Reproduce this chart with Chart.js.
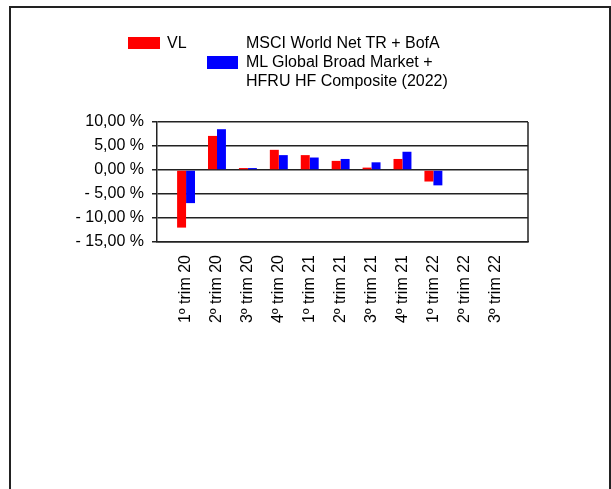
<!DOCTYPE html>
<html>
<head>
<meta charset="utf-8">
<script src="https://cdn.jsdelivr.net/npm/chart.js@4.4.0/dist/chart.umd.min.js"></script>
<style>
    html, body { margin: 0; padding: 0; background: #fff; }
    #wrap { position: relative; width: 611px; height: 489px; overflow: hidden; }
    #frame {
        position: absolute; left: 9px; top: 6px; width: 598px; height: 500px;
        border-left: 2px solid #222; border-top: 2px solid #222; border-right: 2px solid #222;
    }
    #chart { position: absolute; left: 0; top: 0; }
    .leg { position: absolute; font: 16px "Liberation Sans", Arial, sans-serif; color: #000; line-height: 19px; white-space: nowrap; }
    .box { position: absolute; }
</style>
</head>
<body>
<div id="wrap">
    <div id="frame"></div>
    <canvas id="chart" width="611" height="489"></canvas>
    <div id="legend"></div>
</div>
<script>
// ===== Quarterly returns: fund vs. benchmark =====

const categories = ['1º trim 20', '2º trim 20', '3º trim 20', '4º trim 20', '1º trim 21', '2º trim 21',
    '3º trim 21', '4º trim 21', '1º trim 22', '2º trim 22', '3º trim 22'];

const seriesNames = ['VL', 'MSCI World Net TR + BofA\nML Global Broad Market +\nHFRU HF Composite (2022)'];
const seriesColors = ['#ff0000', '#0000ff'];

// values in % (last two quarters have no data)
const vlValues = [-12.0, 7.1, 0.4, 4.2, 3.1, 1.9, 0.5, 2.3, -2.4, null, null];
const benchValues = [-6.9, 8.5, 0.4, 3.1, 2.6, 2.3, 1.6, 3.8, -3.2, null, null];

const yTicks = [10, 5, 0, -5, -10, -15];

function fmtPct(v) {
    const s = Math.abs(v).toFixed(2).replace('.', ',') + ' %';
    return v < 0 ? '- ' + s : s;
}

function toPoints(values) {
    return values.map((v, i) => ({ x: i, y: v }));
}

// right edge of the plot frame
const frameRight = {
    id: 'frameRight',
    afterDraw(chart) {
        const { ctx, chartArea } = chart;
        ctx.save();
        ctx.strokeStyle = '#222';
        ctx.lineWidth = 1.5;
        ctx.beginPath();
        ctx.moveTo(chartArea.right, chartArea.top);
        ctx.lineTo(chartArea.right, chartArea.bottom);
        ctx.stroke();
        ctx.restore();
    }
};

const font = { family: '"Liberation Sans", Arial, sans-serif', size: 16 };

new Chart(document.getElementById('chart'), {
    type: 'bar',
    data: {
        datasets: [
            { label: seriesNames[0], data: toPoints(vlValues), backgroundColor: seriesColors[0] },
            { label: seriesNames[1], data: toPoints(benchValues), backgroundColor: seriesColors[1] }
        ]
    },
    options: {
        responsive: false,
        animation: false,
        layout: { padding: { left: 0, top: 122, right: 83, bottom: 147 } },
        plugins: { legend: { display: false }, tooltip: { enabled: false } },
        datasets: { bar: { categoryPercentage: 0.58, barPercentage: 1.0 } },
        scales: {
            x: {
                type: 'linear',
                offset: false,
                min: -0.94,
                max: 11.06,
                afterBuildTicks(scale) {
                    scale.ticks = categories.map((_, i) => ({ value: i }));
                },
                afterFit(scale) {
                    scale.height = 100;
                    scale.paddingLeft = 0;
                    scale.paddingRight = 0;
                },
                grid: { display: false, drawTicks: false },
                border: { display: true, color: '#222', width: 1.5 },
                ticks: {
                    minRotation: 90,
                    maxRotation: 90,
                    autoSkip: false,
                    padding: 13,
                    color: '#000',
                    font: font,
                    callback: (v) => categories[v] ?? ''
                }
            },
            y: {
                min: -15,
                max: 10,
                afterBuildTicks(scale) {
                    scale.ticks = yTicks.map(v => ({ value: v }));
                },
                afterFit(scale) { scale.width = 157; },
                grid: { color: '#222', lineWidth: 1.5, tickLength: 5 },
                border: { display: true, color: '#222', width: 1.5 },
                ticks: {
                    padding: 8,
                    color: '#000',
                    font: font,
                    callback: (v) => fmtPct(v)
                }
            }
        }
    },
    plugins: [frameRight]
});

// legend drawn as HTML: first item on one line, second item wraps to three lines
const legend = document.getElementById('legend');
legend.innerHTML =
    `<div class="box" style="left:128px;top:37px;width:32px;height:12px;background:${seriesColors[0]}"></div>` +
    `<div class="leg" style="left:167px;top:33px">${seriesNames[0]}</div>` +
    `<div class="box" style="left:207px;top:56px;width:31px;height:13px;background:${seriesColors[1]}"></div>` +
    `<div class="leg" style="left:246px;top:33px">${seriesNames[1].split('\n').join('<br>')}</div>`;
</script>
</body>
</html>
